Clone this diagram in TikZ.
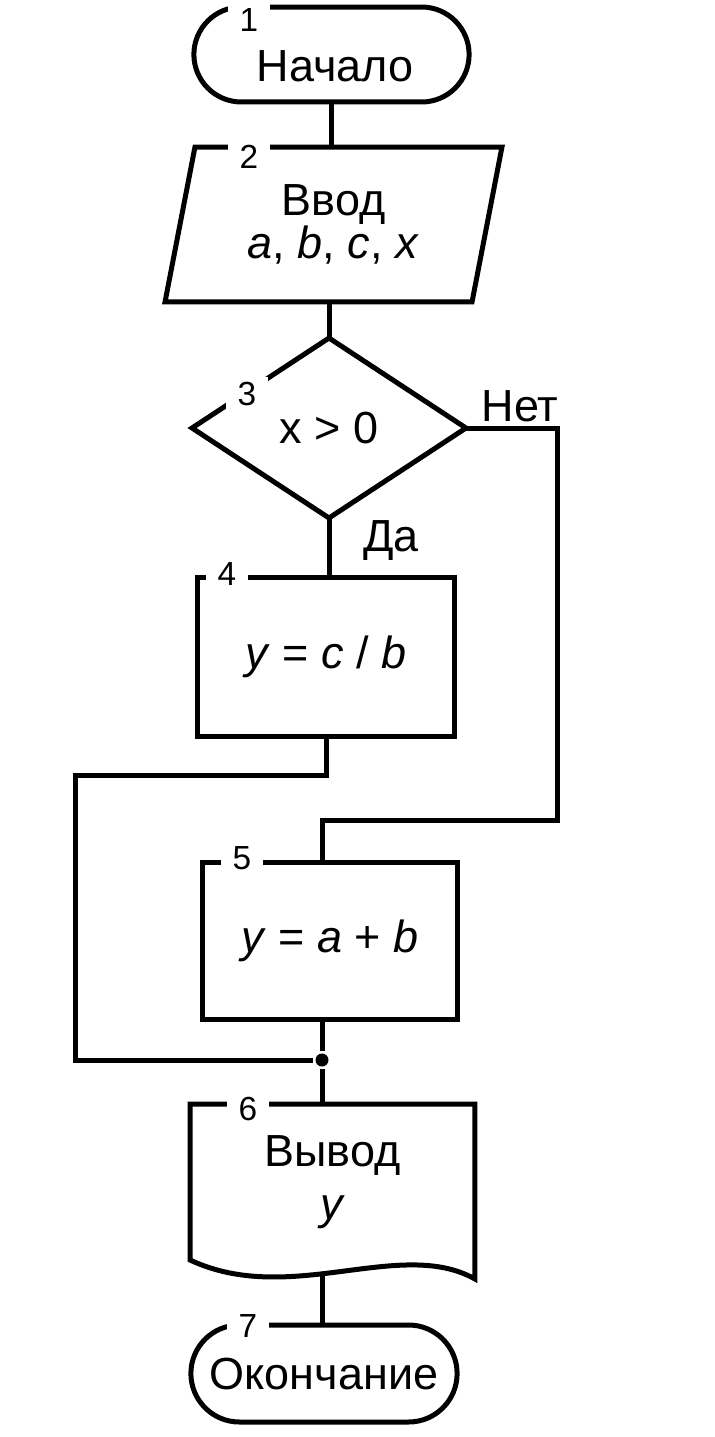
\documentclass[tikz,border=0pt]{standalone}
\usepackage{fontspec}
\setmainfont{Liberation Sans}
\usetikzlibrary{shapes.geometric}
\usetikzlibrary{shapes.misc}
\usetikzlibrary{calc}

\begin{document}
\begin{tikzpicture}[x=0.02cm, y=-0.02cm, line width=0.1cm,
  every node/.style={align=center, font=\fontsize{25.6}{30}\selectfont},
  term/.style={draw, rounded rectangle, outer sep=0pt},
  io/.style={draw, trapezium, trapezium left angle=72, trapezium right angle=108,
    trapezium stretches body, minimum width=6.74cm, minimum height=3.1cm, outer sep=0pt},
  cond/.style={draw, diamond, minimum width=5.48cm, minimum height=3.6cm, outer sep=0pt},
  proc/.style={draw, rectangle, outer sep=0pt},
  num/.style={fill=white, inner xsep=0.24cm, inner ysep=0.1cm, font=\fontsize{19}{19}\selectfont},
  dot/.style={circle, fill=black, inner sep=0pt, minimum size=0.26cm}]
\useasboundingbox (0,0) rectangle (714,1437);

\node[term, minimum width=5.74cm, minimum height=1.9cm] (n1) at (331.5,54.5) {};
\node (t1) at (335,66) {Начало};
\node[io] (n2) at (333.5,224.5) {Ввод\\[-0.18cm]\textit{a}, \textit{b}, \textit{c}, \textit{x}};
\node[cond] (n3) at (329,428) {x > 0};
\node[proc, minimum width=5.16cm, minimum height=3.2cm] (n4) at (326,657) {\textit{y} = \textit{c} / \textit{b}};
\node[proc, minimum width=5.12cm, minimum height=3.16cm] (n5) at (330,941) {\textit{y} = \textit{a} + \textit{b}};
\node[minimum width=5.7cm, minimum height=3.12cm, outer sep=0pt] (n6) at (332.5,1182) {Вывод\\\textit{y}};
\node[term, minimum width=5.56cm, minimum height=1.94cm] (n7) at (324,1373.5) {Окончание};

% document outline with wavy bottom
\draw (n6.south west) -- (n6.north west) -- (n6.north east) -- ($(n6.south east)+(0,19)$)
  .. controls ($(n6.south east)+(-75,-23)$) and ($(n6.south west)+(100,47)$) .. (n6.south west) -- cycle;

\node[dot] (j) at (322,1060) {};
\coordinate (r1) at (557,820);
\coordinate (l1) at (75,775);
\coordinate (w) at (322,1276);

\draw (n1.south) -- (n1.south |- n2.north);
\draw (n3.north |- n2.south) -- (n3.north);
\draw (n3.south) -- (n3.south |- n4.north);
\draw (n3.east) -| (r1) -| (j |- n5.north);
\draw (n4.south) |- (l1) |- (j);
\draw (n5.south -| j) -- (j) -- (j |- n6.north);
\draw (w) -- (w |- n7.north);

\node (yes) at (391,541) {Да};
\node (no) at (520,406) {Нет};

% block numbers
\node[num] (k1) at (249,20) {1};
\node[num] (k2) at (249,157) {2};
\node[num] (k3) at (247,394) {3};
\node[num] (k4) at (227,574) {4};
\node[num] (k5) at (242,858) {5};
\node[num] (k6) at (248,1109) {6};
\node[num] (k7) at (248,1326) {7};
\end{tikzpicture}
\end{document}
